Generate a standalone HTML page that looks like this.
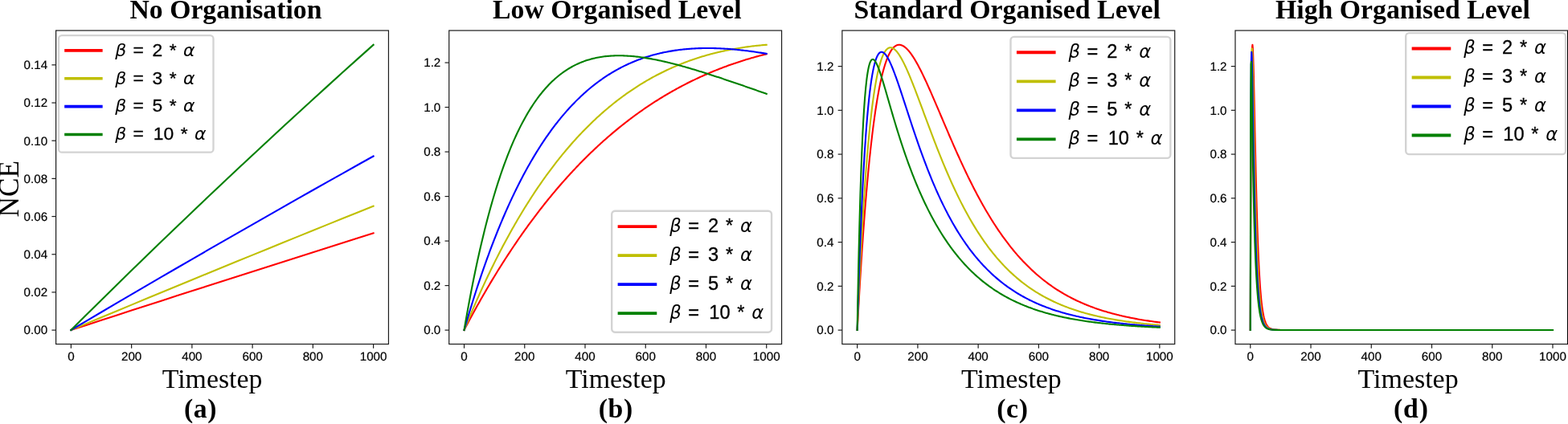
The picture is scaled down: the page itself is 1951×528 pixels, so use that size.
<!DOCTYPE html>
<html lang="en"><head><meta charset="utf-8"><title>NCE over Timestep</title>
<style>html,body{margin:0;padding:0;background:#fff;overflow:hidden;}svg{display:block;}</style>
</head><body>
<svg width="1951" height="528" viewBox="0 0 1951 528" role="img" aria-label="NCE over Timestep for four organisation levels">
<rect x="0" y="0" width="1951" height="528" fill="#fff"/>
<g id="panel-a">
<g fill="none" stroke-width="2.1" stroke-linecap="square" stroke-linejoin="round">
<polyline stroke="#ff0000" points="88.40,411.00 107.21,404.88 126.02,398.77 144.83,392.68 163.64,386.59 182.45,380.51 201.26,374.43 220.07,368.37 238.88,362.32 257.69,356.28 276.50,350.24 295.31,344.21 314.12,338.20 332.93,332.19 351.74,326.19 370.55,320.20 389.36,314.22 408.17,308.25 426.98,302.29 445.79,296.33 464.60,290.39"/>
<polyline stroke="#bfbf00" points="88.40,411.00 107.21,403.13 126.02,395.28 144.83,387.45 163.64,379.63 182.45,371.82 201.26,364.04 220.07,356.26 238.88,348.51 257.69,340.76 276.50,333.04 295.31,325.33 314.12,317.63 332.93,309.95 351.74,302.29 370.55,294.64 389.36,287.01 408.17,279.39 426.98,271.79 445.79,264.20 464.60,256.63"/>
<polyline stroke="#0000ff" points="88.40,411.00 107.21,399.86 126.02,388.76 144.83,377.69 163.64,366.65 182.45,355.65 201.26,344.68 220.07,333.74 238.88,322.84 257.69,311.96 276.50,301.12 295.31,290.32 314.12,279.54 332.93,268.80 351.74,258.09 370.55,247.41 389.36,236.77 408.17,226.16 426.98,215.57 445.79,205.03 464.60,194.51"/>
<polyline stroke="#008000" points="88.40,411.00 107.21,392.29 126.02,373.69 144.83,355.19 163.64,336.79 182.45,318.49 201.26,300.29 220.07,282.19 238.88,264.19 257.69,246.30 276.50,228.49 295.31,210.79 314.12,193.19 332.93,175.68 351.74,158.27 370.55,140.95 389.36,123.73 408.17,106.61 426.98,89.58 445.79,72.64 464.60,55.80"/>
</g>
<g stroke="#1c1c1c" stroke-width="1.2">
<line x1="88.40" y1="428.5" x2="88.40" y2="433.70"/>
<line x1="163.64" y1="428.5" x2="163.64" y2="433.70"/>
<line x1="238.88" y1="428.5" x2="238.88" y2="433.70"/>
<line x1="314.12" y1="428.5" x2="314.12" y2="433.70"/>
<line x1="389.36" y1="428.5" x2="389.36" y2="433.70"/>
<line x1="464.60" y1="428.5" x2="464.60" y2="433.70"/>
<line x1="64.40" y1="411.10" x2="69.60" y2="411.10"/>
<line x1="64.40" y1="363.92" x2="69.60" y2="363.92"/>
<line x1="64.40" y1="316.74" x2="69.60" y2="316.74"/>
<line x1="64.40" y1="269.56" x2="69.60" y2="269.56"/>
<line x1="64.40" y1="222.38" x2="69.60" y2="222.38"/>
<line x1="64.40" y1="175.20" x2="69.60" y2="175.20"/>
<line x1="64.40" y1="128.02" x2="69.60" y2="128.02"/>
<line x1="64.40" y1="80.84" x2="69.60" y2="80.84"/>
</g>
<g font-family='"Liberation Sans", sans-serif' font-size="15.0" fill="#000" stroke="#000" stroke-width="0.2" text-rendering="geometricPrecision">
<text transform="translate(88.40,449.40) scale(1.015,1)" text-anchor="middle">0</text>
<text transform="translate(163.64,449.40) scale(1.015,1)" text-anchor="middle">200</text>
<text transform="translate(238.88,449.40) scale(1.015,1)" text-anchor="middle">400</text>
<text transform="translate(314.12,449.40) scale(1.015,1)" text-anchor="middle">600</text>
<text transform="translate(389.36,449.40) scale(1.015,1)" text-anchor="middle">800</text>
<text transform="translate(464.60,449.40) scale(1.015,1)" text-anchor="middle">1000</text>
<text transform="translate(59.20,416.40) scale(1.015,1)" text-anchor="end">0.00</text>
<text transform="translate(59.20,369.22) scale(1.015,1)" text-anchor="end">0.02</text>
<text transform="translate(59.20,322.04) scale(1.015,1)" text-anchor="end">0.04</text>
<text transform="translate(59.20,274.86) scale(1.015,1)" text-anchor="end">0.06</text>
<text transform="translate(59.20,227.68) scale(1.015,1)" text-anchor="end">0.08</text>
<text transform="translate(59.20,180.50) scale(1.015,1)" text-anchor="end">0.10</text>
<text transform="translate(59.20,133.32) scale(1.015,1)" text-anchor="end">0.12</text>
<text transform="translate(59.20,86.14) scale(1.015,1)" text-anchor="end">0.14</text>
</g>
<rect x="69.60" y="38.0" width="413.85" height="390.50" fill="none" stroke="#1c1c1c" stroke-width="1.2"/>
<text x="161.53" y="22.50" font-family='"Liberation Serif", serif' font-size="33.73" font-weight="bold" fill="#000">No Organisation</text>
<text x="201.72" y="482.80" font-family='"Liberation Serif", serif' font-size="33.82" fill="#000">Timestep</text>
<text x="228.98" y="520.00" font-family='"Liberation Serif", serif' font-size="33.75" font-weight="bold" fill="#000" letter-spacing="0.559">(a)</text>
<g transform="translate(73.00,44.15) scale(1.0)">
<rect x="0" y="0" width="192.5" height="145.5" rx="4" ry="4" fill="#fff" fill-opacity="0.8" stroke="#d3d3d3" stroke-width="2.3"/>
<line x1="7.2" y1="18.75" x2="54.65" y2="18.75" stroke="#ff0000" stroke-width="3.7"/>
<line x1="7.2" y1="53.62" x2="54.65" y2="53.62" stroke="#bfbf00" stroke-width="3.7"/>
<line x1="7.2" y1="88.49" x2="54.65" y2="88.49" stroke="#0000ff" stroke-width="3.7"/>
<line x1="7.2" y1="123.36" x2="54.65" y2="123.36" stroke="#008000" stroke-width="3.7"/>
<text y="25.60" font-family='"Liberation Sans", sans-serif' font-size="22.86" fill="#000" stroke="#000" stroke-width="0.3"><tspan x="70.20" font-family='"DejaVu Sans", "Liberation Sans", sans-serif' font-style="italic" font-size="22.0" stroke="none">β</tspan><tspan x="99.25" text-anchor="middle"> = </tspan><tspan x="122.80" text-anchor="middle">2</tspan><tspan x="142.20" text-anchor="middle"> * </tspan><tspan x="155.11" font-family='"DejaVu Sans", "Liberation Sans", sans-serif' font-style="italic" font-size="22.0" stroke="none">α</tspan></text>
<text y="60.47" font-family='"Liberation Sans", sans-serif' font-size="22.86" fill="#000" stroke="#000" stroke-width="0.3"><tspan x="70.20" font-family='"DejaVu Sans", "Liberation Sans", sans-serif' font-style="italic" font-size="22.0" stroke="none">β</tspan><tspan x="99.25" text-anchor="middle"> = </tspan><tspan x="122.80" text-anchor="middle">3</tspan><tspan x="142.20" text-anchor="middle"> * </tspan><tspan x="155.11" font-family='"DejaVu Sans", "Liberation Sans", sans-serif' font-style="italic" font-size="22.0" stroke="none">α</tspan></text>
<text y="95.34" font-family='"Liberation Sans", sans-serif' font-size="22.86" fill="#000" stroke="#000" stroke-width="0.3"><tspan x="70.20" font-family='"DejaVu Sans", "Liberation Sans", sans-serif' font-style="italic" font-size="22.0" stroke="none">β</tspan><tspan x="99.25" text-anchor="middle"> = </tspan><tspan x="122.80" text-anchor="middle">5</tspan><tspan x="142.20" text-anchor="middle"> * </tspan><tspan x="155.11" font-family='"DejaVu Sans", "Liberation Sans", sans-serif' font-style="italic" font-size="22.0" stroke="none">α</tspan></text>
<text y="130.21" font-family='"Liberation Sans", sans-serif' font-size="22.86" fill="#000" stroke="#000" stroke-width="0.3"><tspan x="70.20" font-family='"DejaVu Sans", "Liberation Sans", sans-serif' font-style="italic" font-size="22.0" stroke="none">β</tspan><tspan x="99.25" text-anchor="middle"> = </tspan><tspan x="130.50" text-anchor="middle">10</tspan><tspan x="156.10" text-anchor="middle"> * </tspan><tspan x="169.01" font-family='"DejaVu Sans", "Liberation Sans", sans-serif' font-style="italic" font-size="22.0" stroke="none">α</tspan></text>
</g>
</g>
<g id="panel-b">
<g fill="none" stroke-width="2.1" stroke-linecap="square" stroke-linejoin="round">
<polyline stroke="#ff0000" points="577.53,411.00 579.03,408.13 580.54,405.27 582.04,402.43 583.55,399.61 585.05,396.81 586.56,394.02 588.06,391.25 589.57,388.50 591.07,385.76 592.58,383.04 594.08,380.34 595.59,377.65 597.09,374.98 598.60,372.32 600.10,369.69 601.61,367.06 603.11,364.46 604.62,361.87 606.12,359.29 607.63,356.73 609.13,354.19 610.64,351.66 612.14,349.15 613.65,346.65 615.15,344.17 616.65,341.71 618.16,339.26 619.66,336.82 621.17,334.40 622.67,332.00 624.18,329.61 625.68,327.23 627.19,324.88 628.69,322.53 630.20,320.20 631.70,317.88 633.21,315.58 634.71,313.30 636.22,311.02 637.72,308.77 639.23,306.52 640.73,304.29 642.24,302.08 643.74,299.88 645.25,297.69 646.75,295.52 648.26,293.36 649.76,291.22 651.27,289.08 652.77,286.97 654.27,284.86 655.78,282.77 657.28,280.70 658.79,278.63 660.29,276.58 661.80,274.55 663.30,272.52 664.81,270.51 666.31,268.52 667.82,266.53 669.32,264.56 670.83,262.60 672.33,260.66 673.84,258.73 675.34,256.81 676.85,254.90 678.35,253.01 679.86,251.13 681.36,249.26 682.87,247.40 684.37,245.56 685.88,243.72 687.38,241.91 688.89,240.10 690.39,238.30 691.89,236.52 693.40,234.75 694.90,232.99 696.41,231.24 697.91,229.51 699.42,227.79 700.92,226.08 702.43,224.38 703.93,222.69 705.44,221.01 706.94,219.35 708.45,217.69 709.95,216.05 711.46,214.42 712.96,212.80 714.47,211.19 715.97,209.60 717.48,208.01 718.98,206.44 720.49,204.87 721.99,203.32 723.50,201.78 725.00,200.25 726.51,198.73 728.01,197.22 729.51,195.72 731.02,194.23 732.52,192.76 734.03,191.29 735.53,189.84 737.04,188.39 738.54,186.96 740.05,185.53 741.55,184.12 743.06,182.71 744.56,181.32 746.07,179.94 747.57,178.56 749.08,177.20 750.58,175.84 752.09,174.50 753.59,173.17 755.10,171.84 756.60,170.53 758.11,169.23 759.61,167.93 761.12,166.65 762.62,165.37 764.13,164.11 765.63,162.85 767.13,161.61 768.64,160.37 770.14,159.14 771.65,157.92 773.15,156.71 774.66,155.51 776.16,154.32 777.67,153.14 779.17,151.97 780.68,150.81 782.18,149.65 783.69,148.51 785.19,147.37 786.70,146.25 788.20,145.13 789.71,144.02 791.21,142.92 792.72,141.83 794.22,140.74 795.73,139.67 797.23,138.60 798.74,137.54 800.24,136.49 801.75,135.45 803.25,134.42 804.75,133.40 806.26,132.38 807.76,131.38 809.27,130.38 810.77,129.39 812.28,128.40 813.78,127.43 815.29,126.46 816.79,125.51 818.30,124.55 819.80,123.61 821.31,122.68 822.81,121.75 824.32,120.83 825.82,119.92 827.33,119.02 828.83,118.12 830.34,117.24 831.84,116.36 833.35,115.48 834.85,114.62 836.36,113.76 837.86,112.91 839.37,112.07 840.87,111.24 842.37,110.41 843.88,109.59 845.38,108.78 846.89,107.97 848.39,107.17 849.90,106.38 851.40,105.60 852.91,104.82 854.41,104.05 855.92,103.29 857.42,102.53 858.93,101.78 860.43,101.04 861.94,100.31 863.44,99.58 864.95,98.86 866.45,98.14 867.96,97.44 869.46,96.74 870.97,96.04 872.47,95.35 873.98,94.67 875.48,94.00 876.99,93.33 878.49,92.67 879.99,92.02 881.50,91.37 883.00,90.73 884.51,90.09 886.01,89.46 887.52,88.84 889.02,88.22 890.53,87.61 892.03,87.01 893.54,86.41 895.04,85.82 896.55,85.24 898.05,84.66 899.56,84.08 901.06,83.52 902.57,82.95 904.07,82.40 905.58,81.85 907.08,81.31 908.59,80.77 910.09,80.24 911.60,79.71 913.10,79.19 914.61,78.68 916.11,78.17 917.61,77.67 919.12,77.17 920.62,76.68 922.13,76.19 923.63,75.71 925.14,75.24 926.64,74.77 928.15,74.30 929.65,73.85 931.16,73.39 932.66,72.95 934.17,72.50 935.67,72.07 937.18,71.64 938.68,71.21 940.19,70.79 941.69,70.37 943.20,69.96 944.70,69.56 946.21,69.16 947.71,68.76 949.22,68.37 950.72,67.99 952.23,67.61 953.73,67.23"/>
<polyline stroke="#bfbf00" points="577.53,411.00 579.03,407.31 580.54,403.65 582.04,400.02 583.55,396.41 585.05,392.84 586.56,389.29 588.06,385.77 589.57,382.29 591.07,378.83 592.58,375.39 594.08,371.99 595.59,368.61 597.09,365.26 598.60,361.94 600.10,358.64 601.61,355.37 603.11,352.13 604.62,348.92 606.12,345.73 607.63,342.56 609.13,339.43 610.64,336.32 612.14,333.23 613.65,330.17 615.15,327.14 616.65,324.13 618.16,321.14 619.66,318.18 621.17,315.25 622.67,312.34 624.18,309.45 625.68,306.59 627.19,303.75 628.69,300.94 630.20,298.15 631.70,295.38 633.21,292.64 634.71,289.92 636.22,287.22 637.72,284.55 639.23,281.90 640.73,279.27 642.24,276.67 643.74,274.08 645.25,271.52 646.75,268.98 648.26,266.47 649.76,263.97 651.27,261.50 652.77,259.05 654.27,256.61 655.78,254.20 657.28,251.82 658.79,249.45 660.29,247.10 661.80,244.78 663.30,242.47 664.81,240.19 666.31,237.92 667.82,235.68 669.32,233.45 670.83,231.25 672.33,229.06 673.84,226.89 675.34,224.75 676.85,222.62 678.35,220.51 679.86,218.43 681.36,216.36 682.87,214.30 684.37,212.27 685.88,210.26 687.38,208.26 688.89,206.29 690.39,204.33 691.89,202.39 693.40,200.47 694.90,198.56 696.41,196.67 697.91,194.80 699.42,192.95 700.92,191.12 702.43,189.30 703.93,187.50 705.44,185.72 706.94,183.95 708.45,182.20 709.95,180.47 711.46,178.75 712.96,177.05 714.47,175.37 715.97,173.70 717.48,172.05 718.98,170.41 720.49,168.80 721.99,167.19 723.50,165.60 725.00,164.03 726.51,162.48 728.01,160.93 729.51,159.41 731.02,157.90 732.52,156.40 734.03,154.92 735.53,153.45 737.04,152.00 738.54,150.57 740.05,149.15 741.55,147.74 743.06,146.34 744.56,144.97 746.07,143.60 747.57,142.25 749.08,140.91 750.58,139.59 752.09,138.28 753.59,136.99 755.10,135.70 756.60,134.44 758.11,133.18 759.61,131.94 761.12,130.71 762.62,129.50 764.13,128.29 765.63,127.11 767.13,125.93 768.64,124.77 770.14,123.61 771.65,122.48 773.15,121.35 774.66,120.24 776.16,119.14 777.67,118.05 779.17,116.97 780.68,115.91 782.18,114.85 783.69,113.81 785.19,112.79 786.70,111.77 788.20,110.76 789.71,109.77 791.21,108.79 792.72,107.82 794.22,106.86 795.73,105.91 797.23,104.97 798.74,104.05 800.24,103.13 801.75,102.23 803.25,101.34 804.75,100.45 806.26,99.58 807.76,98.72 809.27,97.87 810.77,97.03 812.28,96.20 813.78,95.39 815.29,94.58 816.79,93.78 818.30,92.99 819.80,92.21 821.31,91.45 822.81,90.69 824.32,89.94 825.82,89.20 827.33,88.47 828.83,87.75 830.34,87.04 831.84,86.35 833.35,85.65 834.85,84.97 836.36,84.30 837.86,83.64 839.37,82.99 840.87,82.34 842.37,81.71 843.88,81.08 845.38,80.46 846.89,79.86 848.39,79.26 849.90,78.67 851.40,78.08 852.91,77.51 854.41,76.95 855.92,76.39 857.42,75.84 858.93,75.30 860.43,74.77 861.94,74.25 863.44,73.73 864.95,73.23 866.45,72.73 867.96,72.24 869.46,71.76 870.97,71.28 872.47,70.81 873.98,70.36 875.48,69.90 876.99,69.46 878.49,69.02 879.99,68.60 881.50,68.18 883.00,67.76 884.51,67.36 886.01,66.96 887.52,66.57 889.02,66.18 890.53,65.80 892.03,65.43 893.54,65.07 895.04,64.72 896.55,64.37 898.05,64.03 899.56,63.69 901.06,63.36 902.57,63.04 904.07,62.73 905.58,62.42 907.08,62.12 908.59,61.82 910.09,61.53 911.60,61.25 913.10,60.98 914.61,60.71 916.11,60.44 917.61,60.19 919.12,59.94 920.62,59.69 922.13,59.46 923.63,59.22 925.14,59.00 926.64,58.78 928.15,58.56 929.65,58.36 931.16,58.15 932.66,57.96 934.17,57.77 935.67,57.58 937.18,57.40 938.68,57.23 940.19,57.06 941.69,56.90 943.20,56.74 944.70,56.59 946.21,56.45 947.71,56.31 949.22,56.17 950.72,56.04 952.23,55.92 953.73,55.80"/>
<polyline stroke="#0000ff" points="577.53,411.00 579.03,405.78 580.54,400.63 582.04,395.53 583.55,390.50 585.05,385.53 586.56,380.62 588.06,375.76 589.57,370.97 591.07,366.23 592.58,361.55 594.08,356.93 595.59,352.37 597.09,347.86 598.60,343.40 600.10,339.00 601.61,334.65 603.11,330.36 604.62,326.12 606.12,321.93 607.63,317.79 609.13,313.71 610.64,309.67 612.14,305.69 613.65,301.75 615.15,297.87 616.65,294.03 618.16,290.24 619.66,286.50 621.17,282.80 622.67,279.16 624.18,275.55 625.68,272.00 627.19,268.49 628.69,265.02 630.20,261.60 631.70,258.22 633.21,254.89 634.71,251.59 636.22,248.34 637.72,245.14 639.23,241.97 640.73,238.85 642.24,235.76 643.74,232.72 645.25,229.71 646.75,226.75 648.26,223.82 649.76,220.94 651.27,218.09 652.77,215.28 654.27,212.50 655.78,209.77 657.28,207.07 658.79,204.40 660.29,201.77 661.80,199.18 663.30,196.63 664.81,194.10 666.31,191.61 667.82,189.16 669.32,186.74 670.83,184.35 672.33,182.00 673.84,179.68 675.34,177.39 676.85,175.13 678.35,172.91 679.86,170.71 681.36,168.55 682.87,166.42 684.37,164.31 685.88,162.24 687.38,160.20 688.89,158.19 690.39,156.20 691.89,154.25 693.40,152.32 694.90,150.42 696.41,148.55 697.91,146.71 699.42,144.89 700.92,143.10 702.43,141.34 703.93,139.60 705.44,137.89 706.94,136.21 708.45,134.55 709.95,132.91 711.46,131.31 712.96,129.72 714.47,128.16 715.97,126.63 717.48,125.12 718.98,123.63 720.49,122.17 721.99,120.72 723.50,119.31 725.00,117.91 726.51,116.54 728.01,115.19 729.51,113.86 731.02,112.55 732.52,111.27 734.03,110.00 735.53,108.76 737.04,107.54 738.54,106.34 740.05,105.16 741.55,104.00 743.06,102.86 744.56,101.73 746.07,100.63 747.57,99.55 749.08,98.49 750.58,97.44 752.09,96.42 753.59,95.41 755.10,94.42 756.60,93.45 758.11,92.50 759.61,91.56 761.12,90.65 762.62,89.75 764.13,88.86 765.63,88.00 767.13,87.15 768.64,86.31 770.14,85.50 771.65,84.70 773.15,83.91 774.66,83.14 776.16,82.39 777.67,81.65 779.17,80.93 780.68,80.23 782.18,79.53 783.69,78.86 785.19,78.19 786.70,77.55 788.20,76.91 789.71,76.29 791.21,75.69 792.72,75.10 794.22,74.52 795.73,73.96 797.23,73.41 798.74,72.87 800.24,72.35 801.75,71.83 803.25,71.34 804.75,70.85 806.26,70.38 807.76,69.92 809.27,69.47 810.77,69.03 812.28,68.61 813.78,68.20 815.29,67.80 816.79,67.41 818.30,67.03 819.80,66.66 821.31,66.31 822.81,65.96 824.32,65.63 825.82,65.31 827.33,65.00 828.83,64.70 830.34,64.41 831.84,64.13 833.35,63.86 834.85,63.60 836.36,63.35 837.86,63.11 839.37,62.88 840.87,62.66 842.37,62.45 843.88,62.25 845.38,62.05 846.89,61.87 848.39,61.70 849.90,61.53 851.40,61.38 852.91,61.23 854.41,61.09 855.92,60.96 857.42,60.84 858.93,60.73 860.43,60.63 861.94,60.53 863.44,60.44 864.95,60.36 866.45,60.29 867.96,60.23 869.46,60.17 870.97,60.12 872.47,60.08 873.98,60.04 875.48,60.02 876.99,60.00 878.49,59.99 879.99,59.98 881.50,59.98 883.00,59.99 884.51,60.01 886.01,60.03 887.52,60.06 889.02,60.10 890.53,60.14 892.03,60.19 893.54,60.25 895.04,60.31 896.55,60.38 898.05,60.45 899.56,60.53 901.06,60.62 902.57,60.71 904.07,60.81 905.58,60.91 907.08,61.02 908.59,61.14 910.09,61.26 911.60,61.38 913.10,61.52 914.61,61.65 916.11,61.80 917.61,61.94 919.12,62.10 920.62,62.25 922.13,62.42 923.63,62.59 925.14,62.76 926.64,62.94 928.15,63.12 929.65,63.31 931.16,63.50 932.66,63.70 934.17,63.90 935.67,64.10 937.18,64.31 938.68,64.53 940.19,64.75 941.69,64.97 943.20,65.20 944.70,65.43 946.21,65.66 947.71,65.90 949.22,66.15 950.72,66.40 952.23,66.65 953.73,66.90"/>
<polyline stroke="#008000" points="577.53,411.00 579.03,402.27 580.54,393.73 582.04,385.37 583.55,377.20 585.05,369.21 586.56,361.39 588.06,353.75 589.57,346.27 591.07,338.96 592.58,331.81 594.08,324.82 595.59,317.99 597.09,311.31 598.60,304.77 600.10,298.39 601.61,292.14 603.11,286.04 604.62,280.07 606.12,274.24 607.63,268.55 609.13,262.98 610.64,257.54 612.14,252.22 613.65,247.03 615.15,241.95 616.65,236.99 618.16,232.15 619.66,227.42 621.17,222.80 622.67,218.29 624.18,213.88 625.68,209.58 627.19,205.38 628.69,201.27 630.20,197.27 631.70,193.36 633.21,189.55 634.71,185.82 636.22,182.19 637.72,178.64 639.23,175.19 640.73,171.81 642.24,168.52 643.74,165.31 645.25,162.18 646.75,159.13 648.26,156.15 649.76,153.25 651.27,150.42 652.77,147.66 654.27,144.98 655.78,142.36 657.28,139.81 658.79,137.33 660.29,134.91 661.80,132.56 663.30,130.26 664.81,128.03 666.31,125.86 667.82,123.75 669.32,121.69 670.83,119.69 672.33,117.75 673.84,115.86 675.34,114.02 676.85,112.23 678.35,110.50 679.86,108.81 681.36,107.17 682.87,105.58 684.37,104.04 685.88,102.54 687.38,101.09 688.89,99.68 690.39,98.32 691.89,96.99 693.40,95.71 694.90,94.47 696.41,93.27 697.91,92.10 699.42,90.98 700.92,89.89 702.43,88.84 703.93,87.82 705.44,86.84 706.94,85.89 708.45,84.98 709.95,84.10 711.46,83.25 712.96,82.43 714.47,81.64 715.97,80.89 717.48,80.16 718.98,79.46 720.49,78.79 721.99,78.15 723.50,77.54 725.00,76.95 726.51,76.38 728.01,75.85 729.51,75.34 731.02,74.85 732.52,74.38 734.03,73.94 735.53,73.53 737.04,73.13 738.54,72.76 740.05,72.41 741.55,72.08 743.06,71.77 744.56,71.48 746.07,71.21 747.57,70.96 749.08,70.73 750.58,70.51 752.09,70.32 753.59,70.14 755.10,69.98 756.60,69.84 758.11,69.71 759.61,69.60 761.12,69.51 762.62,69.43 764.13,69.36 765.63,69.31 767.13,69.28 768.64,69.26 770.14,69.26 771.65,69.26 773.15,69.28 774.66,69.32 776.16,69.37 777.67,69.43 779.17,69.50 780.68,69.58 782.18,69.68 783.69,69.78 785.19,69.90 786.70,70.03 788.20,70.17 789.71,70.32 791.21,70.48 792.72,70.65 794.22,70.83 795.73,71.02 797.23,71.22 798.74,71.43 800.24,71.64 801.75,71.87 803.25,72.10 804.75,72.35 806.26,72.60 807.76,72.85 809.27,73.12 810.77,73.39 812.28,73.68 813.78,73.96 815.29,74.26 816.79,74.56 818.30,74.87 819.80,75.19 821.31,75.51 822.81,75.84 824.32,76.17 825.82,76.51 827.33,76.86 828.83,77.21 830.34,77.57 831.84,77.93 833.35,78.30 834.85,78.67 836.36,79.05 837.86,79.43 839.37,79.82 840.87,80.21 842.37,80.61 843.88,81.01 845.38,81.42 846.89,81.83 848.39,82.24 849.90,82.66 851.40,83.08 852.91,83.51 854.41,83.94 855.92,84.37 857.42,84.81 858.93,85.25 860.43,85.69 861.94,86.14 863.44,86.59 864.95,87.04 866.45,87.50 867.96,87.96 869.46,88.42 870.97,88.88 872.47,89.35 873.98,89.82 875.48,90.29 876.99,90.77 878.49,91.24 879.99,91.72 881.50,92.20 883.00,92.69 884.51,93.17 886.01,93.66 887.52,94.15 889.02,94.64 890.53,95.13 892.03,95.63 893.54,96.12 895.04,96.62 896.55,97.12 898.05,97.62 899.56,98.13 901.06,98.63 902.57,99.14 904.07,99.64 905.58,100.15 907.08,100.66 908.59,101.17 910.09,101.68 911.60,102.20 913.10,102.71 914.61,103.22 916.11,103.74 917.61,104.26 919.12,104.78 920.62,105.29 922.13,105.81 923.63,106.33 925.14,106.85 926.64,107.38 928.15,107.90 929.65,108.42 931.16,108.95 932.66,109.47 934.17,109.99 935.67,110.52 937.18,111.04 938.68,111.57 940.19,112.10 941.69,112.62 943.20,113.15 944.70,113.68 946.21,114.21 947.71,114.73 949.22,115.26 950.72,115.79 952.23,116.32 953.73,116.85"/>
</g>
<g stroke="#1c1c1c" stroke-width="1.2">
<line x1="577.53" y1="428.5" x2="577.53" y2="433.70"/>
<line x1="652.77" y1="428.5" x2="652.77" y2="433.70"/>
<line x1="728.01" y1="428.5" x2="728.01" y2="433.70"/>
<line x1="803.25" y1="428.5" x2="803.25" y2="433.70"/>
<line x1="878.49" y1="428.5" x2="878.49" y2="433.70"/>
<line x1="953.73" y1="428.5" x2="953.73" y2="433.70"/>
<line x1="553.53" y1="411.10" x2="558.73" y2="411.10"/>
<line x1="553.53" y1="355.59" x2="558.73" y2="355.59"/>
<line x1="553.53" y1="300.08" x2="558.73" y2="300.08"/>
<line x1="553.53" y1="244.57" x2="558.73" y2="244.57"/>
<line x1="553.53" y1="189.06" x2="558.73" y2="189.06"/>
<line x1="553.53" y1="133.55" x2="558.73" y2="133.55"/>
<line x1="553.53" y1="78.05" x2="558.73" y2="78.05"/>
</g>
<g font-family='"Liberation Sans", sans-serif' font-size="15.0" fill="#000" stroke="#000" stroke-width="0.2" text-rendering="geometricPrecision">
<text transform="translate(577.53,449.40) scale(1.015,1)" text-anchor="middle">0</text>
<text transform="translate(652.77,449.40) scale(1.015,1)" text-anchor="middle">200</text>
<text transform="translate(728.01,449.40) scale(1.015,1)" text-anchor="middle">400</text>
<text transform="translate(803.25,449.40) scale(1.015,1)" text-anchor="middle">600</text>
<text transform="translate(878.49,449.40) scale(1.015,1)" text-anchor="middle">800</text>
<text transform="translate(953.73,449.40) scale(1.015,1)" text-anchor="middle">1000</text>
<text transform="translate(548.33,416.40) scale(1.015,1)" text-anchor="end">0.0</text>
<text transform="translate(548.33,360.89) scale(1.015,1)" text-anchor="end">0.2</text>
<text transform="translate(548.33,305.38) scale(1.015,1)" text-anchor="end">0.4</text>
<text transform="translate(548.33,249.87) scale(1.015,1)" text-anchor="end">0.6</text>
<text transform="translate(548.33,194.36) scale(1.015,1)" text-anchor="end">0.8</text>
<text transform="translate(548.33,138.85) scale(1.015,1)" text-anchor="end">1.0</text>
<text transform="translate(548.33,83.35) scale(1.015,1)" text-anchor="end">1.2</text>
</g>
<rect x="558.73" y="38.0" width="413.85" height="390.50" fill="none" stroke="#1c1c1c" stroke-width="1.2"/>
<text x="613.09" y="22.50" font-family='"Liberation Serif", serif' font-size="33.77" font-weight="bold" fill="#000">Low Organised Level</text>
<text x="703.82" y="482.80" font-family='"Liberation Serif", serif' font-size="33.88" fill="#000">Timestep</text>
<text x="744.68" y="520.00" font-family='"Liberation Serif", serif' font-size="33.75" font-weight="bold" fill="#000" letter-spacing="0.697">(b)</text>
<g transform="translate(761.20,262.70) scale(1.033)">
<rect x="0" y="0" width="192.5" height="146.2" rx="4" ry="4" fill="#fff" fill-opacity="0.8" stroke="#d3d3d3" stroke-width="2.3"/>
<line x1="7.2" y1="18.75" x2="54.3" y2="18.75" stroke="#ff0000" stroke-width="3.7"/>
<line x1="7.2" y1="53.62" x2="54.3" y2="53.62" stroke="#bfbf00" stroke-width="3.7"/>
<line x1="7.2" y1="88.49" x2="54.3" y2="88.49" stroke="#0000ff" stroke-width="3.7"/>
<line x1="7.2" y1="123.36" x2="54.3" y2="123.36" stroke="#008000" stroke-width="3.7"/>
<text y="25.60" font-family='"Liberation Sans", sans-serif' font-size="22.86" fill="#000" stroke="#000" stroke-width="0.3"><tspan x="69.70" font-family='"DejaVu Sans", "Liberation Sans", sans-serif' font-style="italic" font-size="22.0" stroke="none">β</tspan><tspan x="98.75" text-anchor="middle"> = </tspan><tspan x="122.30" text-anchor="middle">2</tspan><tspan x="141.70" text-anchor="middle"> * </tspan><tspan x="154.61" font-family='"DejaVu Sans", "Liberation Sans", sans-serif' font-style="italic" font-size="22.0" stroke="none">α</tspan></text>
<text y="60.47" font-family='"Liberation Sans", sans-serif' font-size="22.86" fill="#000" stroke="#000" stroke-width="0.3"><tspan x="69.70" font-family='"DejaVu Sans", "Liberation Sans", sans-serif' font-style="italic" font-size="22.0" stroke="none">β</tspan><tspan x="98.75" text-anchor="middle"> = </tspan><tspan x="122.30" text-anchor="middle">3</tspan><tspan x="141.70" text-anchor="middle"> * </tspan><tspan x="154.61" font-family='"DejaVu Sans", "Liberation Sans", sans-serif' font-style="italic" font-size="22.0" stroke="none">α</tspan></text>
<text y="95.34" font-family='"Liberation Sans", sans-serif' font-size="22.86" fill="#000" stroke="#000" stroke-width="0.3"><tspan x="69.70" font-family='"DejaVu Sans", "Liberation Sans", sans-serif' font-style="italic" font-size="22.0" stroke="none">β</tspan><tspan x="98.75" text-anchor="middle"> = </tspan><tspan x="122.30" text-anchor="middle">5</tspan><tspan x="141.70" text-anchor="middle"> * </tspan><tspan x="154.61" font-family='"DejaVu Sans", "Liberation Sans", sans-serif' font-style="italic" font-size="22.0" stroke="none">α</tspan></text>
<text y="130.21" font-family='"Liberation Sans", sans-serif' font-size="22.86" fill="#000" stroke="#000" stroke-width="0.3"><tspan x="69.70" font-family='"DejaVu Sans", "Liberation Sans", sans-serif' font-style="italic" font-size="22.0" stroke="none">β</tspan><tspan x="98.75" text-anchor="middle"> = </tspan><tspan x="130.00" text-anchor="middle">10</tspan><tspan x="155.60" text-anchor="middle"> * </tspan><tspan x="168.51" font-family='"DejaVu Sans", "Liberation Sans", sans-serif' font-style="italic" font-size="22.0" stroke="none">α</tspan></text>
</g>
</g>
<g id="panel-c">
<g fill="none" stroke-width="2.1" stroke-linecap="square" stroke-linejoin="round">
<polyline stroke="#ff0000" points="1066.66,411.00 1067.04,403.95 1067.41,397.00 1067.79,390.16 1068.16,383.42 1068.54,376.79 1068.92,370.25 1069.29,363.81 1069.67,357.47 1070.05,351.23 1070.42,345.09 1070.80,339.03 1071.17,333.08 1071.55,327.21 1071.93,321.44 1072.30,315.76 1072.68,310.16 1073.06,304.66 1073.43,299.24 1073.81,293.91 1074.18,288.66 1074.56,283.50 1074.94,278.42 1075.31,273.42 1075.69,268.50 1076.06,263.67 1076.44,258.91 1076.82,254.23 1077.19,249.63 1077.57,245.11 1077.95,240.66 1078.32,236.29 1078.70,231.99 1079.07,227.76 1079.45,223.60 1079.83,219.52 1080.20,215.51 1080.58,211.56 1080.96,207.69 1081.33,203.88 1081.71,200.14 1082.08,196.46 1082.46,192.85 1082.84,189.31 1083.21,185.83 1083.59,182.41 1083.97,179.05 1084.34,175.76 1084.72,172.53 1085.09,169.35 1085.47,166.24 1085.85,163.18 1086.22,160.18 1086.60,157.24 1086.97,154.36 1087.35,151.53 1087.73,148.76 1088.10,146.04 1088.48,143.37 1088.86,140.76 1089.23,138.20 1089.61,135.69 1089.98,133.23 1090.36,130.82 1090.74,128.46 1091.11,126.15 1091.49,123.89 1091.87,121.68 1092.24,119.52 1092.62,117.40 1092.99,115.33 1093.37,113.30 1093.75,111.32 1094.12,109.38 1094.50,107.49 1094.87,105.64 1095.25,103.83 1095.63,102.06 1096.00,100.34 1096.38,98.66 1096.76,97.01 1097.13,95.41 1097.51,93.85 1097.88,92.33 1098.26,90.84 1098.64,89.39 1099.01,87.98 1099.39,86.61 1099.77,85.28 1100.14,83.98 1100.52,82.71 1100.89,81.48 1101.27,80.29 1101.65,79.13 1102.02,78.00 1102.40,76.91 1102.78,75.85 1103.15,74.82 1103.53,73.82 1103.90,72.86 1104.28,71.92 1104.66,71.02 1105.03,70.15 1105.41,69.31 1105.78,68.49 1106.16,67.71 1106.54,66.95 1106.91,66.23 1107.29,65.53 1107.67,64.86 1108.04,64.21 1108.42,63.59 1108.79,63.00 1109.17,62.44 1109.55,61.90 1109.92,61.39 1110.30,60.90 1110.68,60.43 1111.05,59.99 1111.43,59.58 1111.80,59.18 1112.18,58.81 1112.56,58.47 1112.93,58.15 1113.31,57.84 1113.68,57.57 1114.06,57.31 1114.44,57.07 1114.81,56.86 1115.19,56.66 1115.57,56.49 1115.94,56.34 1116.32,56.20 1116.69,56.09 1117.07,55.99 1117.45,55.92 1117.82,55.86 1118.20,55.82 1118.58,55.80 1118.95,55.80 1119.33,55.82 1119.70,55.85 1120.08,55.90 1120.46,55.96 1120.83,56.05 1121.21,56.15 1121.59,56.26 1121.96,56.40 1122.34,56.54 1122.71,56.71 1123.09,56.88 1123.47,57.08 1123.84,57.28 1124.22,57.51 1124.59,57.74 1124.97,57.99 1125.35,58.26 1125.72,58.53 1126.10,58.83 1126.48,59.13 1126.85,59.45 1127.23,59.78 1127.60,60.12 1127.98,60.47 1128.36,60.84 1128.73,61.22 1129.11,61.61 1129.49,62.01 1129.86,62.42 1130.24,62.85 1130.61,63.28 1130.99,63.73 1131.37,64.19 1131.74,64.65 1132.12,65.13 1132.49,65.62 1132.87,66.12 1133.25,66.62 1133.62,67.14 1134.00,67.67 1134.38,68.20 1134.75,68.75 1135.13,69.30 1135.50,69.86 1135.88,70.43 1136.26,71.01 1136.63,71.60 1137.01,72.19 1137.39,72.79 1137.76,73.41 1138.14,74.02 1138.51,74.65 1138.89,75.28 1139.27,75.92 1139.64,76.57 1140.02,77.23 1140.40,77.89 1140.77,78.56 1141.15,79.23 1141.52,79.91 1141.90,80.60 1143.40,83.41 1144.91,86.31 1146.41,89.30 1147.92,92.36 1149.42,95.48 1150.93,98.68 1152.43,101.93 1153.94,105.22 1155.44,108.57 1156.95,111.95 1158.45,115.37 1159.96,118.82 1161.46,122.30 1162.97,125.80 1164.47,129.31 1165.98,132.84 1167.48,136.38 1168.99,139.93 1170.49,143.48 1172.00,147.03 1173.50,150.58 1175.01,154.13 1176.51,157.67 1178.02,161.20 1179.52,164.71 1181.02,168.22 1182.53,171.71 1184.03,175.18 1185.54,178.63 1187.04,182.06 1188.55,185.47 1190.05,188.85 1191.56,192.22 1193.06,195.55 1194.57,198.86 1196.07,202.14 1197.58,205.39 1199.08,208.61 1200.59,211.80 1202.09,214.96 1203.60,218.09 1205.10,221.19 1206.61,224.25 1208.11,227.28 1209.62,230.28 1211.12,233.24 1212.63,236.17 1214.13,239.06 1215.64,241.92 1217.14,244.74 1218.64,247.53 1220.15,250.28 1221.65,252.99 1223.16,255.67 1224.66,258.32 1226.17,260.93 1227.67,263.50 1229.18,266.04 1230.68,268.55 1232.19,271.01 1233.69,273.45 1235.20,275.85 1236.70,278.21 1238.21,280.54 1239.71,282.83 1241.22,285.09 1242.72,287.32 1244.23,289.51 1245.73,291.67 1247.24,293.80 1248.74,295.89 1250.25,297.96 1251.75,299.98 1253.26,301.98 1254.76,303.95 1256.26,305.88 1257.77,307.78 1259.27,309.66 1260.78,311.50 1262.28,313.31 1263.79,315.09 1265.29,316.84 1266.80,318.57 1268.30,320.26 1269.81,321.93 1271.31,323.57 1272.82,325.18 1274.32,326.77 1275.83,328.32 1277.33,329.85 1278.84,331.36 1280.34,332.84 1281.85,334.29 1283.35,335.72 1284.86,337.12 1286.36,338.50 1287.87,339.86 1289.37,341.19 1290.88,342.50 1292.38,343.78 1293.88,345.05 1295.39,346.29 1296.89,347.51 1298.40,348.70 1299.90,349.88 1301.41,351.03 1302.91,352.17 1304.42,353.28 1305.92,354.37 1307.43,355.45 1308.93,356.50 1310.44,357.53 1311.94,358.55 1313.45,359.55 1314.95,360.53 1316.46,361.49 1317.96,362.44 1319.47,363.36 1320.97,364.27 1322.48,365.17 1323.98,366.04 1325.49,366.90 1326.99,367.75 1328.50,368.58 1330.00,369.39 1331.50,370.19 1333.01,370.97 1334.51,371.74 1336.02,372.50 1337.52,373.24 1339.03,373.97 1340.53,374.68 1342.04,375.38 1343.54,376.07 1345.05,376.74 1346.55,377.40 1348.06,378.05 1349.56,378.69 1351.07,379.31 1352.57,379.93 1354.08,380.53 1355.58,381.12 1357.09,381.70 1358.59,382.27 1360.10,382.82 1361.60,383.37 1363.11,383.91 1364.61,384.43 1366.12,384.95 1367.62,385.45 1369.12,385.95 1370.63,386.44 1372.13,386.92 1373.64,387.38 1375.14,387.84 1376.65,388.29 1378.15,388.74 1379.66,389.17 1381.16,389.60 1382.67,390.01 1384.17,390.42 1385.68,390.82 1387.18,391.22 1388.69,391.60 1390.19,391.98 1391.70,392.35 1393.20,392.72 1394.71,393.08 1396.21,393.43 1397.72,393.77 1399.22,394.11 1400.73,394.44 1402.23,394.76 1403.74,395.08 1405.24,395.39 1406.74,395.70 1408.25,396.00 1409.75,396.29 1411.26,396.58 1412.76,396.86 1414.27,397.14 1415.77,397.41 1417.28,397.68 1418.78,397.94 1420.29,398.19 1421.79,398.45 1423.30,398.69 1424.80,398.93 1426.31,399.17 1427.81,399.40 1429.32,399.63 1430.82,399.85 1432.33,400.07 1433.83,400.29 1435.34,400.50 1436.84,400.71 1438.35,400.91 1439.85,401.11 1441.36,401.30 1442.86,401.49"/>
<polyline stroke="#bfbf00" points="1066.66,411.00 1067.04,401.95 1067.41,393.09 1067.79,384.40 1068.16,375.88 1068.54,367.53 1068.92,359.36 1069.29,351.35 1069.67,343.50 1070.05,335.81 1070.42,328.28 1070.80,320.91 1071.17,313.68 1071.55,306.61 1071.93,299.69 1072.30,292.91 1072.68,286.28 1073.06,279.78 1073.43,273.43 1073.81,267.20 1074.18,261.12 1074.56,255.16 1074.94,249.34 1075.31,243.64 1075.69,238.07 1076.06,232.62 1076.44,227.29 1076.82,222.08 1077.19,216.99 1077.57,212.01 1077.95,207.15 1078.32,202.40 1078.70,197.75 1079.07,193.22 1079.45,188.79 1079.83,184.47 1080.20,180.24 1080.58,176.12 1080.96,172.10 1081.33,168.18 1081.71,164.35 1082.08,160.61 1082.46,156.97 1082.84,153.42 1083.21,149.96 1083.59,146.58 1083.97,143.29 1084.34,140.09 1084.72,136.97 1085.09,133.94 1085.47,130.98 1085.85,128.10 1086.22,125.30 1086.60,122.58 1086.97,119.93 1087.35,117.36 1087.73,114.86 1088.10,112.43 1088.48,110.07 1088.86,107.78 1089.23,105.56 1089.61,103.41 1089.98,101.32 1090.36,99.29 1090.74,97.33 1091.11,95.43 1091.49,93.59 1091.87,91.81 1092.24,90.09 1092.62,88.43 1092.99,86.83 1093.37,85.28 1093.75,83.78 1094.12,82.34 1094.50,80.96 1094.87,79.62 1095.25,78.34 1095.63,77.10 1096.00,75.92 1096.38,74.78 1096.76,73.69 1097.13,72.65 1097.51,71.65 1097.88,70.70 1098.26,69.79 1098.64,68.93 1099.01,68.11 1099.39,67.33 1099.77,66.59 1100.14,65.89 1100.52,65.23 1100.89,64.61 1101.27,64.02 1101.65,63.48 1102.02,62.97 1102.40,62.50 1102.78,62.06 1103.15,61.66 1103.53,61.29 1103.90,60.95 1104.28,60.65 1104.66,60.38 1105.03,60.14 1105.41,59.93 1105.78,59.75 1106.16,59.60 1106.54,59.48 1106.91,59.39 1107.29,59.32 1107.67,59.29 1108.04,59.28 1108.42,59.29 1108.79,59.34 1109.17,59.40 1109.55,59.50 1109.92,59.61 1110.30,59.75 1110.68,59.92 1111.05,60.10 1111.43,60.31 1111.80,60.54 1112.18,60.80 1112.56,61.07 1112.93,61.36 1113.31,61.68 1113.68,62.01 1114.06,62.37 1114.44,62.74 1114.81,63.13 1115.19,63.54 1115.57,63.96 1115.94,64.41 1116.32,64.87 1116.69,65.34 1117.07,65.84 1117.45,66.35 1117.82,66.87 1118.20,67.41 1118.58,67.97 1118.95,68.54 1119.33,69.12 1119.70,69.72 1120.08,70.33 1120.46,70.95 1120.83,71.59 1121.21,72.24 1121.59,72.90 1121.96,73.57 1122.34,74.26 1122.71,74.96 1123.09,75.66 1123.47,76.38 1123.84,77.11 1124.22,77.85 1124.59,78.60 1124.97,79.36 1125.35,80.13 1125.72,80.91 1126.10,81.70 1126.48,82.49 1126.85,83.30 1127.23,84.11 1127.60,84.94 1127.98,85.76 1128.36,86.60 1128.73,87.45 1129.11,88.30 1129.49,89.16 1129.86,90.03 1130.24,90.90 1130.61,91.78 1130.99,92.66 1131.37,93.56 1131.74,94.45 1132.12,95.36 1132.49,96.27 1132.87,97.18 1133.25,98.10 1133.62,99.02 1134.00,99.95 1134.38,100.89 1134.75,101.83 1135.13,102.77 1135.50,103.72 1135.88,104.67 1136.26,105.62 1136.63,106.58 1137.01,107.54 1137.39,108.51 1137.76,109.48 1138.14,110.45 1138.51,111.43 1138.89,112.41 1139.27,113.39 1139.64,114.37 1140.02,115.36 1140.40,116.35 1140.77,117.34 1141.15,118.33 1141.52,119.33 1141.90,120.33 1143.40,124.33 1144.91,128.36 1146.41,132.41 1147.92,136.46 1149.42,140.52 1150.93,144.59 1152.43,148.64 1153.94,152.69 1155.44,156.72 1156.95,160.74 1158.45,164.73 1159.96,168.70 1161.46,172.65 1162.97,176.57 1164.47,180.46 1165.98,184.31 1167.48,188.13 1168.99,191.91 1170.49,195.66 1172.00,199.36 1173.50,203.03 1175.01,206.65 1176.51,210.23 1178.02,213.76 1179.52,217.25 1181.02,220.70 1182.53,224.10 1184.03,227.46 1185.54,230.76 1187.04,234.03 1188.55,237.24 1190.05,240.41 1191.56,243.53 1193.06,246.61 1194.57,249.63 1196.07,252.62 1197.58,255.55 1199.08,258.44 1200.59,261.28 1202.09,264.08 1203.60,266.83 1205.10,269.53 1206.61,272.19 1208.11,274.81 1209.62,277.38 1211.12,279.91 1212.63,282.39 1214.13,284.84 1215.64,287.24 1217.14,289.60 1218.64,291.91 1220.15,294.19 1221.65,296.42 1223.16,298.62 1224.66,300.78 1226.17,302.89 1227.67,304.97 1229.18,307.02 1230.68,309.02 1232.19,310.99 1233.69,312.92 1235.20,314.82 1236.70,316.68 1238.21,318.51 1239.71,320.30 1241.22,322.06 1242.72,323.79 1244.23,325.49 1245.73,327.15 1247.24,328.78 1248.74,330.39 1250.25,331.96 1251.75,333.50 1253.26,335.01 1254.76,336.50 1256.26,337.95 1257.77,339.38 1259.27,340.78 1260.78,342.15 1262.28,343.50 1263.79,344.83 1265.29,346.12 1266.80,347.39 1268.30,348.64 1269.81,349.86 1271.31,351.06 1272.82,352.24 1274.32,353.40 1275.83,354.53 1277.33,355.64 1278.84,356.73 1280.34,357.79 1281.85,358.84 1283.35,359.87 1284.86,360.87 1286.36,361.86 1287.87,362.83 1289.37,363.77 1290.88,364.71 1292.38,365.62 1293.88,366.51 1295.39,367.39 1296.89,368.25 1298.40,369.09 1299.90,369.92 1301.41,370.73 1302.91,371.52 1304.42,372.30 1305.92,373.06 1307.43,373.81 1308.93,374.55 1310.44,375.27 1311.94,375.97 1313.45,376.66 1314.95,377.34 1316.46,378.01 1317.96,378.66 1319.47,379.30 1320.97,379.92 1322.48,380.54 1323.98,381.14 1325.49,381.73 1326.99,382.31 1328.50,382.87 1330.00,383.43 1331.50,383.98 1333.01,384.51 1334.51,385.03 1336.02,385.55 1337.52,386.05 1339.03,386.54 1340.53,387.03 1342.04,387.50 1343.54,387.97 1345.05,388.42 1346.55,388.87 1348.06,389.31 1349.56,389.73 1351.07,390.16 1352.57,390.57 1354.08,390.97 1355.58,391.37 1357.09,391.76 1358.59,392.14 1360.10,392.51 1361.60,392.88 1363.11,393.23 1364.61,393.59 1366.12,393.93 1367.62,394.27 1369.12,394.60 1370.63,394.92 1372.13,395.24 1373.64,395.55 1375.14,395.86 1376.65,396.16 1378.15,396.45 1379.66,396.74 1381.16,397.02 1382.67,397.30 1384.17,397.57 1385.68,397.84 1387.18,398.10 1388.69,398.35 1390.19,398.60 1391.70,398.85 1393.20,399.09 1394.71,399.32 1396.21,399.56 1397.72,399.78 1399.22,400.00 1400.73,400.22 1402.23,400.44 1403.74,400.64 1405.24,400.85 1406.74,401.05 1408.25,401.25 1409.75,401.44 1411.26,401.63 1412.76,401.82 1414.27,402.00 1415.77,402.18 1417.28,402.35 1418.78,402.52 1420.29,402.69 1421.79,402.85 1423.30,403.02 1424.80,403.17 1426.31,403.33 1427.81,403.48 1429.32,403.63 1430.82,403.77 1432.33,403.92 1433.83,404.06 1435.34,404.20 1436.84,404.33 1438.35,404.46 1439.85,404.59 1441.36,404.72 1442.86,404.84"/>
<polyline stroke="#0000ff" points="1066.66,411.00 1067.04,398.25 1067.41,385.88 1067.79,373.87 1068.16,362.23 1068.54,350.93 1068.92,339.98 1069.29,329.36 1069.67,319.06 1070.05,309.08 1070.42,299.41 1070.80,290.04 1071.17,280.95 1071.55,272.16 1071.93,263.64 1072.30,255.39 1072.68,247.40 1073.06,239.67 1073.43,232.19 1073.81,224.95 1074.18,217.95 1074.56,211.18 1074.94,204.63 1075.31,198.30 1075.69,192.19 1076.06,186.28 1076.44,180.58 1076.82,175.07 1077.19,169.75 1077.57,164.63 1077.95,159.68 1078.32,154.91 1078.70,150.31 1079.07,145.88 1079.45,141.62 1079.83,137.51 1080.20,133.56 1080.58,129.76 1080.96,126.11 1081.33,122.60 1081.71,119.23 1082.08,115.99 1082.46,112.89 1082.84,109.91 1083.21,107.06 1083.59,104.33 1083.97,101.72 1084.34,99.23 1084.72,96.84 1085.09,94.57 1085.47,92.40 1085.85,90.34 1086.22,88.38 1086.60,86.51 1086.97,84.74 1087.35,83.06 1087.73,81.47 1088.10,79.97 1088.48,78.56 1088.86,77.22 1089.23,75.97 1089.61,74.80 1089.98,73.70 1090.36,72.67 1090.74,71.72 1091.11,70.84 1091.49,70.03 1091.87,69.28 1092.24,68.59 1092.62,67.97 1092.99,67.41 1093.37,66.91 1093.75,66.46 1094.12,66.08 1094.50,65.74 1094.87,65.46 1095.25,65.22 1095.63,65.04 1096.00,64.91 1096.38,64.82 1096.76,64.78 1097.13,64.78 1097.51,64.82 1097.88,64.91 1098.26,65.03 1098.64,65.20 1099.01,65.40 1099.39,65.64 1099.77,65.91 1100.14,66.22 1100.52,66.56 1100.89,66.93 1101.27,67.34 1101.65,67.78 1102.02,68.24 1102.40,68.73 1102.78,69.25 1103.15,69.80 1103.53,70.38 1103.90,70.97 1104.28,71.60 1104.66,72.24 1105.03,72.91 1105.41,73.60 1105.78,74.31 1106.16,75.05 1106.54,75.80 1106.91,76.57 1107.29,77.36 1107.67,78.17 1108.04,78.99 1108.42,79.83 1108.79,80.69 1109.17,81.56 1109.55,82.45 1109.92,83.35 1110.30,84.26 1110.68,85.19 1111.05,86.13 1111.43,87.08 1111.80,88.05 1112.18,89.03 1112.56,90.01 1112.93,91.01 1113.31,92.02 1113.68,93.03 1114.06,94.06 1114.44,95.09 1114.81,96.14 1115.19,97.19 1115.57,98.24 1115.94,99.31 1116.32,100.38 1116.69,101.46 1117.07,102.55 1117.45,103.64 1117.82,104.73 1118.20,105.84 1118.58,106.94 1118.95,108.05 1119.33,109.17 1119.70,110.29 1120.08,111.41 1120.46,112.54 1120.83,113.67 1121.21,114.81 1121.59,115.95 1121.96,117.09 1122.34,118.23 1122.71,119.37 1123.09,120.52 1123.47,121.67 1123.84,122.82 1124.22,123.97 1124.59,125.13 1124.97,126.28 1125.35,127.44 1125.72,128.59 1126.10,129.75 1126.48,130.91 1126.85,132.06 1127.23,133.22 1127.60,134.38 1127.98,135.54 1128.36,136.69 1128.73,137.85 1129.11,139.01 1129.49,140.16 1129.86,141.32 1130.24,142.47 1130.61,143.62 1130.99,144.78 1131.37,145.93 1131.74,147.07 1132.12,148.22 1132.49,149.37 1132.87,150.51 1133.25,151.66 1133.62,152.80 1134.00,153.94 1134.38,155.07 1134.75,156.21 1135.13,157.34 1135.50,158.47 1135.88,159.60 1136.26,160.72 1136.63,161.85 1137.01,162.97 1137.39,164.09 1137.76,165.20 1138.14,166.31 1138.51,167.42 1138.89,168.53 1139.27,169.64 1139.64,170.74 1140.02,171.84 1140.40,172.93 1140.77,174.02 1141.15,175.11 1141.52,176.20 1141.90,177.28 1143.40,181.58 1144.91,185.83 1146.41,190.02 1147.92,194.15 1149.42,198.22 1150.93,202.24 1152.43,206.19 1153.94,210.08 1155.44,213.91 1156.95,217.68 1158.45,221.39 1159.96,225.03 1161.46,228.62 1162.97,232.14 1164.47,235.60 1165.98,239.00 1167.48,242.34 1168.99,245.62 1170.49,248.84 1172.00,252.00 1173.50,255.11 1175.01,258.15 1176.51,261.14 1178.02,264.08 1179.52,266.96 1181.02,269.78 1182.53,272.55 1184.03,275.27 1185.54,277.94 1187.04,280.56 1188.55,283.12 1190.05,285.64 1191.56,288.11 1193.06,290.53 1194.57,292.91 1196.07,295.23 1197.58,297.52 1199.08,299.76 1200.59,301.95 1202.09,304.10 1203.60,306.21 1205.10,308.28 1206.61,310.31 1208.11,312.30 1209.62,314.25 1211.12,316.17 1212.63,318.04 1214.13,319.88 1215.64,321.68 1217.14,323.45 1218.64,325.18 1220.15,326.87 1221.65,328.54 1223.16,330.17 1224.66,331.77 1226.17,333.34 1227.67,334.87 1229.18,336.38 1230.68,337.86 1232.19,339.30 1233.69,340.72 1235.20,342.11 1236.70,343.48 1238.21,344.81 1239.71,346.12 1241.22,347.41 1242.72,348.67 1244.23,349.90 1245.73,351.11 1247.24,352.29 1248.74,353.46 1250.25,354.60 1251.75,355.71 1253.26,356.81 1254.76,357.88 1256.26,358.93 1257.77,359.96 1259.27,360.97 1260.78,361.96 1262.28,362.93 1263.79,363.89 1265.29,364.82 1266.80,365.73 1268.30,366.63 1269.81,367.51 1271.31,368.37 1272.82,369.21 1274.32,370.04 1275.83,370.85 1277.33,371.65 1278.84,372.43 1280.34,373.19 1281.85,373.94 1283.35,374.67 1284.86,375.39 1286.36,376.10 1287.87,376.79 1289.37,377.46 1290.88,378.13 1292.38,378.78 1293.88,379.42 1295.39,380.04 1296.89,380.66 1298.40,381.26 1299.90,381.85 1301.41,382.42 1302.91,382.99 1304.42,383.54 1305.92,384.09 1307.43,384.62 1308.93,385.14 1310.44,385.65 1311.94,386.16 1313.45,386.65 1314.95,387.13 1316.46,387.60 1317.96,388.07 1319.47,388.52 1320.97,388.97 1322.48,389.40 1323.98,389.83 1325.49,390.25 1326.99,390.66 1328.50,391.06 1330.00,391.46 1331.50,391.84 1333.01,392.22 1334.51,392.60 1336.02,392.96 1337.52,393.32 1339.03,393.67 1340.53,394.01 1342.04,394.35 1343.54,394.68 1345.05,395.00 1346.55,395.32 1348.06,395.63 1349.56,395.93 1351.07,396.23 1352.57,396.52 1354.08,396.81 1355.58,397.09 1357.09,397.37 1358.59,397.64 1360.10,397.90 1361.60,398.16 1363.11,398.41 1364.61,398.66 1366.12,398.91 1367.62,399.15 1369.12,399.38 1370.63,399.61 1372.13,399.84 1373.64,400.06 1375.14,400.27 1376.65,400.49 1378.15,400.70 1379.66,400.90 1381.16,401.10 1382.67,401.30 1384.17,401.49 1385.68,401.68 1387.18,401.86 1388.69,402.04 1390.19,402.22 1391.70,402.39 1393.20,402.56 1394.71,402.73 1396.21,402.89 1397.72,403.05 1399.22,403.21 1400.73,403.37 1402.23,403.52 1403.74,403.67 1405.24,403.81 1406.74,403.95 1408.25,404.09 1409.75,404.23 1411.26,404.36 1412.76,404.49 1414.27,404.62 1415.77,404.75 1417.28,404.87 1418.78,404.99 1420.29,405.11 1421.79,405.23 1423.30,405.34 1424.80,405.46 1426.31,405.57 1427.81,405.67 1429.32,405.78 1430.82,405.88 1432.33,405.98 1433.83,406.08 1435.34,406.18 1436.84,406.28 1438.35,406.37 1439.85,406.46 1441.36,406.55 1442.86,406.64"/>
<polyline stroke="#008000" points="1066.66,411.00 1067.04,389.82 1067.41,369.78 1067.79,350.82 1068.16,332.89 1068.54,315.94 1068.92,299.92 1069.29,284.79 1069.67,270.49 1070.05,256.99 1070.42,244.26 1070.80,232.24 1071.17,220.92 1071.55,210.24 1071.93,200.19 1072.30,190.72 1072.68,181.81 1073.06,173.44 1073.43,165.57 1073.81,158.19 1074.18,151.26 1074.56,144.76 1074.94,138.68 1075.31,132.99 1075.69,127.67 1076.06,122.70 1076.44,118.07 1076.82,113.76 1077.19,109.75 1077.57,106.03 1077.95,102.58 1078.32,99.40 1078.70,96.46 1079.07,93.75 1079.45,91.26 1079.83,88.99 1080.20,86.91 1080.58,85.03 1080.96,83.33 1081.33,81.79 1081.71,80.42 1082.08,79.20 1082.46,78.13 1082.84,77.20 1083.21,76.40 1083.59,75.72 1083.97,75.16 1084.34,74.71 1084.72,74.37 1085.09,74.12 1085.47,73.98 1085.85,73.92 1086.22,73.95 1086.60,74.06 1086.97,74.24 1087.35,74.50 1087.73,74.82 1088.10,75.21 1088.48,75.66 1088.86,76.17 1089.23,76.73 1089.61,77.34 1089.98,78.00 1090.36,78.71 1090.74,79.46 1091.11,80.25 1091.49,81.08 1091.87,81.94 1092.24,82.84 1092.62,83.77 1092.99,84.73 1093.37,85.72 1093.75,86.73 1094.12,87.77 1094.50,88.83 1094.87,89.91 1095.25,91.02 1095.63,92.14 1096.00,93.28 1096.38,94.43 1096.76,95.61 1097.13,96.79 1097.51,97.99 1097.88,99.20 1098.26,100.42 1098.64,101.65 1099.01,102.89 1099.39,104.14 1099.77,105.40 1100.14,106.66 1100.52,107.93 1100.89,109.21 1101.27,110.49 1101.65,111.78 1102.02,113.07 1102.40,114.36 1102.78,115.66 1103.15,116.96 1103.53,118.26 1103.90,119.56 1104.28,120.86 1104.66,122.17 1105.03,123.47 1105.41,124.78 1105.78,126.08 1106.16,127.38 1106.54,128.69 1106.91,129.99 1107.29,131.29 1107.67,132.59 1108.04,133.89 1108.42,135.18 1108.79,136.48 1109.17,137.77 1109.55,139.06 1109.92,140.34 1110.30,141.62 1110.68,142.90 1111.05,144.18 1111.43,145.45 1111.80,146.72 1112.18,147.99 1112.56,149.25 1112.93,150.51 1113.31,151.76 1113.68,153.01 1114.06,154.26 1114.44,155.50 1114.81,156.74 1115.19,157.97 1115.57,159.20 1115.94,160.42 1116.32,161.64 1116.69,162.86 1117.07,164.07 1117.45,165.27 1117.82,166.47 1118.20,167.67 1118.58,168.86 1118.95,170.05 1119.33,171.23 1119.70,172.40 1120.08,173.58 1120.46,174.74 1120.83,175.90 1121.21,177.06 1121.59,178.21 1121.96,179.36 1122.34,180.50 1122.71,181.64 1123.09,182.77 1123.47,183.90 1123.84,185.02 1124.22,186.13 1124.59,187.25 1124.97,188.35 1125.35,189.45 1125.72,190.55 1126.10,191.64 1126.48,192.73 1126.85,193.81 1127.23,194.88 1127.60,195.96 1127.98,197.02 1128.36,198.08 1128.73,199.14 1129.11,200.19 1129.49,201.24 1129.86,202.28 1130.24,203.31 1130.61,204.34 1130.99,205.37 1131.37,206.39 1131.74,207.41 1132.12,208.42 1132.49,209.43 1132.87,210.43 1133.25,211.43 1133.62,212.42 1134.00,213.41 1134.38,214.39 1134.75,215.37 1135.13,216.34 1135.50,217.31 1135.88,218.27 1136.26,219.23 1136.63,220.19 1137.01,221.14 1137.39,222.08 1137.76,223.02 1138.14,223.96 1138.51,224.89 1138.89,225.82 1139.27,226.74 1139.64,227.66 1140.02,228.57 1140.40,229.48 1140.77,230.38 1141.15,231.28 1141.52,232.18 1141.90,233.07 1143.40,236.59 1144.91,240.04 1146.41,243.42 1147.92,246.74 1149.42,249.99 1150.93,253.18 1152.43,256.30 1153.94,259.36 1155.44,262.36 1156.95,265.31 1158.45,268.19 1159.96,271.02 1161.46,273.79 1162.97,276.51 1164.47,279.17 1165.98,281.78 1167.48,284.34 1168.99,286.85 1170.49,289.30 1172.00,291.71 1173.50,294.08 1175.01,296.39 1176.51,298.66 1178.02,300.88 1179.52,303.07 1181.02,305.20 1182.53,307.30 1184.03,309.35 1185.54,311.36 1187.04,313.34 1188.55,315.27 1190.05,317.17 1191.56,319.02 1193.06,320.85 1194.57,322.63 1196.07,324.38 1197.58,326.10 1199.08,327.78 1200.59,329.42 1202.09,331.04 1203.60,332.62 1205.10,334.18 1206.61,335.70 1208.11,337.19 1209.62,338.65 1211.12,340.08 1212.63,341.49 1214.13,342.86 1215.64,344.21 1217.14,345.53 1218.64,346.83 1220.15,348.10 1221.65,349.35 1223.16,350.57 1224.66,351.76 1226.17,352.94 1227.67,354.09 1229.18,355.21 1230.68,356.32 1232.19,357.40 1233.69,358.46 1235.20,359.50 1236.70,360.52 1238.21,361.52 1239.71,362.50 1241.22,363.46 1242.72,364.40 1244.23,365.33 1245.73,366.23 1247.24,367.12 1248.74,367.99 1250.25,368.84 1251.75,369.67 1253.26,370.49 1254.76,371.29 1256.26,372.08 1257.77,372.85 1259.27,373.61 1260.78,374.35 1262.28,375.07 1263.79,375.78 1265.29,376.48 1266.80,377.16 1268.30,377.83 1269.81,378.49 1271.31,379.13 1272.82,379.77 1274.32,380.38 1275.83,380.99 1277.33,381.58 1278.84,382.17 1280.34,382.74 1281.85,383.30 1283.35,383.85 1284.86,384.38 1286.36,384.91 1287.87,385.43 1289.37,385.93 1290.88,386.43 1292.38,386.92 1293.88,387.39 1295.39,387.86 1296.89,388.32 1298.40,388.77 1299.90,389.21 1301.41,389.64 1302.91,390.06 1304.42,390.48 1305.92,390.88 1307.43,391.28 1308.93,391.67 1310.44,392.06 1311.94,392.43 1313.45,392.80 1314.95,393.16 1316.46,393.51 1317.96,393.86 1319.47,394.20 1320.97,394.53 1322.48,394.86 1323.98,395.18 1325.49,395.49 1326.99,395.80 1328.50,396.10 1330.00,396.39 1331.50,396.68 1333.01,396.97 1334.51,397.24 1336.02,397.52 1337.52,397.78 1339.03,398.04 1340.53,398.30 1342.04,398.55 1343.54,398.80 1345.05,399.04 1346.55,399.28 1348.06,399.51 1349.56,399.74 1351.07,399.96 1352.57,400.18 1354.08,400.39 1355.58,400.60 1357.09,400.81 1358.59,401.01 1360.10,401.21 1361.60,401.40 1363.11,401.59 1364.61,401.78 1366.12,401.96 1367.62,402.14 1369.12,402.32 1370.63,402.49 1372.13,402.66 1373.64,402.82 1375.14,402.98 1376.65,403.14 1378.15,403.30 1379.66,403.45 1381.16,403.60 1382.67,403.75 1384.17,403.89 1385.68,404.03 1387.18,404.17 1388.69,404.30 1390.19,404.44 1391.70,404.57 1393.20,404.69 1394.71,404.82 1396.21,404.94 1397.72,405.06 1399.22,405.18 1400.73,405.29 1402.23,405.41 1403.74,405.52 1405.24,405.63 1406.74,405.73 1408.25,405.84 1409.75,405.94 1411.26,406.04 1412.76,406.14 1414.27,406.23 1415.77,406.33 1417.28,406.42 1418.78,406.51 1420.29,406.60 1421.79,406.69 1423.30,406.77 1424.80,406.86 1426.31,406.94 1427.81,407.02 1429.32,407.10 1430.82,407.18 1432.33,407.25 1433.83,407.33 1435.34,407.40 1436.84,407.47 1438.35,407.54 1439.85,407.61 1441.36,407.67 1442.86,407.74"/>
</g>
<g stroke="#1c1c1c" stroke-width="1.2">
<line x1="1066.66" y1="428.5" x2="1066.66" y2="433.70"/>
<line x1="1141.90" y1="428.5" x2="1141.90" y2="433.70"/>
<line x1="1217.14" y1="428.5" x2="1217.14" y2="433.70"/>
<line x1="1292.38" y1="428.5" x2="1292.38" y2="433.70"/>
<line x1="1367.62" y1="428.5" x2="1367.62" y2="433.70"/>
<line x1="1442.86" y1="428.5" x2="1442.86" y2="433.70"/>
<line x1="1042.66" y1="411.10" x2="1047.86" y2="411.10"/>
<line x1="1042.66" y1="356.35" x2="1047.86" y2="356.35"/>
<line x1="1042.66" y1="301.60" x2="1047.86" y2="301.60"/>
<line x1="1042.66" y1="246.85" x2="1047.86" y2="246.85"/>
<line x1="1042.66" y1="192.09" x2="1047.86" y2="192.09"/>
<line x1="1042.66" y1="137.34" x2="1047.86" y2="137.34"/>
<line x1="1042.66" y1="82.59" x2="1047.86" y2="82.59"/>
</g>
<g font-family='"Liberation Sans", sans-serif' font-size="15.0" fill="#000" stroke="#000" stroke-width="0.2" text-rendering="geometricPrecision">
<text transform="translate(1066.66,449.40) scale(1.015,1)" text-anchor="middle">0</text>
<text transform="translate(1141.90,449.40) scale(1.015,1)" text-anchor="middle">200</text>
<text transform="translate(1217.14,449.40) scale(1.015,1)" text-anchor="middle">400</text>
<text transform="translate(1292.38,449.40) scale(1.015,1)" text-anchor="middle">600</text>
<text transform="translate(1367.62,449.40) scale(1.015,1)" text-anchor="middle">800</text>
<text transform="translate(1442.86,449.40) scale(1.015,1)" text-anchor="middle">1000</text>
<text transform="translate(1037.46,416.40) scale(1.015,1)" text-anchor="end">0.0</text>
<text transform="translate(1037.46,361.65) scale(1.015,1)" text-anchor="end">0.2</text>
<text transform="translate(1037.46,306.90) scale(1.015,1)" text-anchor="end">0.4</text>
<text transform="translate(1037.46,252.15) scale(1.015,1)" text-anchor="end">0.6</text>
<text transform="translate(1037.46,197.39) scale(1.015,1)" text-anchor="end">0.8</text>
<text transform="translate(1037.46,142.64) scale(1.015,1)" text-anchor="end">1.0</text>
<text transform="translate(1037.46,87.89) scale(1.015,1)" text-anchor="end">1.2</text>
</g>
<rect x="1047.86" y="38.0" width="413.85" height="390.50" fill="none" stroke="#1c1c1c" stroke-width="1.2"/>
<text x="1062.44" y="22.50" font-family='"Liberation Serif", serif' font-size="33.83" font-weight="bold" fill="#000">Standard Organised Level</text>
<text x="1196.02" y="482.80" font-family='"Liberation Serif", serif' font-size="33.85" fill="#000">Timestep</text>
<text x="1240.28" y="520.00" font-family='"Liberation Serif", serif' font-size="33.75" font-weight="bold" fill="#000" letter-spacing="0.588">(c)</text>
<g transform="translate(1257.50,45.90) scale(1.033)">
<rect x="0" y="0" width="192.5" height="146.2" rx="4" ry="4" fill="#fff" fill-opacity="0.8" stroke="#d3d3d3" stroke-width="2.3"/>
<line x1="7.2" y1="18.75" x2="54.3" y2="18.75" stroke="#ff0000" stroke-width="3.7"/>
<line x1="7.2" y1="53.62" x2="54.3" y2="53.62" stroke="#bfbf00" stroke-width="3.7"/>
<line x1="7.2" y1="88.49" x2="54.3" y2="88.49" stroke="#0000ff" stroke-width="3.7"/>
<line x1="7.2" y1="123.36" x2="54.3" y2="123.36" stroke="#008000" stroke-width="3.7"/>
<text y="25.60" font-family='"Liberation Sans", sans-serif' font-size="22.86" fill="#000" stroke="#000" stroke-width="0.3"><tspan x="69.70" font-family='"DejaVu Sans", "Liberation Sans", sans-serif' font-style="italic" font-size="22.0" stroke="none">β</tspan><tspan x="98.75" text-anchor="middle"> = </tspan><tspan x="122.30" text-anchor="middle">2</tspan><tspan x="141.70" text-anchor="middle"> * </tspan><tspan x="154.61" font-family='"DejaVu Sans", "Liberation Sans", sans-serif' font-style="italic" font-size="22.0" stroke="none">α</tspan></text>
<text y="60.47" font-family='"Liberation Sans", sans-serif' font-size="22.86" fill="#000" stroke="#000" stroke-width="0.3"><tspan x="69.70" font-family='"DejaVu Sans", "Liberation Sans", sans-serif' font-style="italic" font-size="22.0" stroke="none">β</tspan><tspan x="98.75" text-anchor="middle"> = </tspan><tspan x="122.30" text-anchor="middle">3</tspan><tspan x="141.70" text-anchor="middle"> * </tspan><tspan x="154.61" font-family='"DejaVu Sans", "Liberation Sans", sans-serif' font-style="italic" font-size="22.0" stroke="none">α</tspan></text>
<text y="95.34" font-family='"Liberation Sans", sans-serif' font-size="22.86" fill="#000" stroke="#000" stroke-width="0.3"><tspan x="69.70" font-family='"DejaVu Sans", "Liberation Sans", sans-serif' font-style="italic" font-size="22.0" stroke="none">β</tspan><tspan x="98.75" text-anchor="middle"> = </tspan><tspan x="122.30" text-anchor="middle">5</tspan><tspan x="141.70" text-anchor="middle"> * </tspan><tspan x="154.61" font-family='"DejaVu Sans", "Liberation Sans", sans-serif' font-style="italic" font-size="22.0" stroke="none">α</tspan></text>
<text y="130.21" font-family='"Liberation Sans", sans-serif' font-size="22.86" fill="#000" stroke="#000" stroke-width="0.3"><tspan x="69.70" font-family='"DejaVu Sans", "Liberation Sans", sans-serif' font-style="italic" font-size="22.0" stroke="none">β</tspan><tspan x="98.75" text-anchor="middle"> = </tspan><tspan x="130.00" text-anchor="middle">10</tspan><tspan x="155.60" text-anchor="middle"> * </tspan><tspan x="168.51" font-family='"DejaVu Sans", "Liberation Sans", sans-serif' font-style="italic" font-size="22.0" stroke="none">α</tspan></text>
</g>
</g>
<g id="panel-d">
<g fill="none" stroke-width="2.1" stroke-linecap="square" stroke-linejoin="round">
<polyline stroke="#ff0000" points="1555.79,411.00 1556.17,288.65 1556.54,200.13 1556.92,138.18 1557.29,97.00 1557.67,71.91 1558.05,59.17 1558.42,55.80 1558.80,59.43 1559.18,68.19 1559.55,80.59 1559.93,95.47 1560.30,111.94 1560.68,129.30 1561.06,147.02 1561.43,164.70 1561.81,182.05 1562.19,198.85 1562.56,214.96 1562.94,230.27 1563.31,244.73 1563.69,258.31 1564.07,271.01 1564.44,282.83 1564.82,293.80 1565.19,303.94 1565.57,313.31 1565.95,321.93 1566.32,329.85 1566.70,337.12 1567.08,343.78 1567.45,349.87 1567.83,355.44 1568.20,360.53 1568.58,365.16 1568.96,369.39 1569.33,373.24 1569.71,376.74 1570.09,379.93 1570.46,382.82 1570.84,385.45 1571.21,387.84 1571.59,390.01 1571.97,391.98 1572.34,393.77 1572.72,395.39 1573.10,396.86 1573.47,398.19 1573.85,399.40 1574.22,400.50 1574.60,401.49 1574.98,402.39 1575.35,403.20 1575.73,403.94 1576.10,404.61 1576.48,405.22 1576.86,405.77 1577.23,406.26 1577.61,406.71 1577.99,407.12 1578.36,407.49 1578.74,407.82 1579.11,408.12 1579.49,408.40 1579.87,408.64 1580.24,408.87 1580.62,409.07 1581.00,409.25 1581.37,409.42 1581.75,409.57 1582.12,409.71 1582.50,409.83 1582.88,409.94 1583.25,410.04 1583.63,410.13 1584.00,410.21 1584.38,410.29 1584.76,410.36 1585.13,410.42 1585.51,410.47 1585.89,410.52 1586.26,410.57 1586.64,410.61 1587.01,410.65 1587.39,410.68 1587.77,410.71 1588.14,410.74 1588.52,410.76 1588.90,410.79 1589.27,410.81 1589.65,410.82 1590.02,410.84 1590.40,410.86 1590.78,410.87 1591.15,410.88 1591.53,410.89 1591.91,410.90 1592.28,410.91 1592.66,410.92 1593.03,410.93 1593.41,410.94 1593.79,410.94 1594.16,410.95 1594.54,410.95 1594.91,410.96 1595.29,410.96 1595.67,410.96 1596.04,410.97 1596.42,410.97 1596.80,410.97 1597.17,410.98 1597.55,410.98 1597.92,410.98 1598.30,410.98 1598.68,410.98 1599.05,410.99 1599.43,410.99 1599.81,410.99 1600.18,410.99 1600.56,410.99 1600.93,410.99 1601.31,410.99 1601.69,410.99 1602.06,410.99 1602.44,410.99 1602.81,410.99 1603.19,411.00 1603.57,411.00 1603.94,411.00 1604.32,411.00 1604.70,411.00 1605.07,411.00 1605.45,411.00 1605.82,411.00 1606.20,411.00 1606.58,411.00 1606.95,411.00 1607.33,411.00 1607.71,411.00 1608.08,411.00 1608.46,411.00 1608.83,411.00 1609.21,411.00 1609.59,411.00 1609.96,411.00 1610.34,411.00 1610.72,411.00 1611.09,411.00 1611.47,411.00 1611.84,411.00 1612.22,411.00 1631.03,411.00 1649.84,411.00 1668.65,411.00 1687.46,411.00 1706.27,411.00 1725.08,411.00 1743.89,411.00 1762.70,411.00 1781.51,411.00 1800.32,411.00 1819.13,411.00 1837.94,411.00 1856.75,411.00 1875.56,411.00 1894.37,411.00 1913.18,411.00 1931.99,411.00"/>
<polyline stroke="#bfbf00" points="1555.79,411.00 1556.17,261.11 1556.54,164.34 1556.92,105.55 1557.29,73.68 1557.67,60.63 1558.05,60.53 1558.42,69.10 1558.80,83.29 1559.18,100.87 1559.55,120.31 1559.93,140.51 1560.30,160.73 1560.68,180.45 1561.06,199.35 1561.43,217.25 1561.81,234.02 1562.19,249.63 1562.56,264.07 1562.94,277.38 1563.31,289.59 1563.69,300.77 1564.07,310.99 1564.44,320.30 1564.82,328.78 1565.19,336.49 1565.57,343.50 1565.95,349.86 1566.32,355.63 1566.70,360.87 1567.08,365.62 1567.45,369.92 1567.83,373.81 1568.20,377.34 1568.58,380.54 1568.96,383.43 1569.33,386.05 1569.71,388.42 1570.09,390.57 1570.46,392.51 1570.84,394.27 1571.21,395.86 1571.59,397.30 1571.97,398.60 1572.34,399.78 1572.72,400.85 1573.10,401.82 1573.47,402.69 1573.85,403.48 1574.22,404.20 1574.60,404.84 1574.98,405.43 1575.35,405.96 1575.73,406.44 1576.10,406.87 1576.48,407.27 1576.86,407.62 1577.23,407.94 1577.61,408.23 1577.99,408.50 1578.36,408.73 1578.74,408.95 1579.11,409.15 1579.49,409.32 1579.87,409.48 1580.24,409.63 1580.62,409.76 1581.00,409.88 1581.37,409.98 1581.75,410.08 1582.12,410.17 1582.50,410.25 1582.88,410.32 1583.25,410.38 1583.63,410.44 1584.00,410.49 1584.38,410.54 1584.76,410.59 1585.13,410.63 1585.51,410.66 1585.89,410.69 1586.26,410.72 1586.64,410.75 1587.01,410.77 1587.39,410.79 1587.77,410.81 1588.14,410.83 1588.52,410.85 1588.90,410.86 1589.27,410.88 1589.65,410.89 1590.02,410.90 1590.40,410.91 1590.78,410.92 1591.15,410.92 1591.53,410.93 1591.91,410.94 1592.28,410.94 1592.66,410.95 1593.03,410.95 1593.41,410.96 1593.79,410.96 1594.16,410.97 1594.54,410.97 1594.91,410.97 1595.29,410.97 1595.67,410.98 1596.04,410.98 1596.42,410.98 1596.80,410.98 1597.17,410.98 1597.55,410.99 1597.92,410.99 1598.30,410.99 1598.68,410.99 1599.05,410.99 1599.43,410.99 1599.81,410.99 1600.18,410.99 1600.56,410.99 1600.93,410.99 1601.31,410.99 1601.69,411.00 1602.06,411.00 1602.44,411.00 1602.81,411.00 1603.19,411.00 1603.57,411.00 1603.94,411.00 1604.32,411.00 1604.70,411.00 1605.07,411.00 1605.45,411.00 1605.82,411.00 1606.20,411.00 1606.58,411.00 1606.95,411.00 1607.33,411.00 1607.71,411.00 1608.08,411.00 1608.46,411.00 1608.83,411.00 1609.21,411.00 1609.59,411.00 1609.96,411.00 1610.34,411.00 1610.72,411.00 1611.09,411.00 1611.47,411.00 1611.84,411.00 1612.22,411.00 1631.03,411.00 1649.84,411.00 1668.65,411.00 1687.46,411.00 1706.27,411.00 1725.08,411.00 1743.89,411.00 1762.70,411.00 1781.51,411.00 1800.32,411.00 1819.13,411.00 1837.94,411.00 1856.75,411.00 1875.56,411.00 1894.37,411.00 1913.18,411.00 1931.99,411.00"/>
<polyline stroke="#0000ff" points="1555.79,411.00 1556.17,217.94 1556.54,119.21 1556.92,75.96 1557.29,64.76 1557.67,71.58 1558.05,88.04 1558.42,109.16 1558.80,132.05 1559.18,155.06 1559.55,177.27 1559.93,198.21 1560.30,217.67 1560.68,235.59 1561.06,251.99 1561.43,266.95 1561.81,280.55 1562.19,292.90 1562.56,304.10 1562.94,314.25 1563.31,323.44 1563.69,331.76 1564.07,339.30 1564.44,346.12 1564.82,352.29 1565.19,357.88 1565.57,362.93 1565.95,367.51 1566.32,371.64 1566.70,375.39 1567.08,378.78 1567.45,381.84 1567.83,384.62 1568.20,387.13 1568.58,389.40 1568.96,391.46 1569.33,393.32 1569.71,395.00 1570.09,396.52 1570.46,397.90 1570.84,399.15 1571.21,400.27 1571.59,401.29 1571.97,402.22 1572.34,403.05 1572.72,403.81 1573.10,404.49 1573.47,405.11 1573.85,405.67 1574.22,406.18 1574.60,406.64 1574.98,407.05 1575.35,407.43 1575.73,407.77 1576.10,408.08 1576.48,408.36 1576.86,408.61 1577.23,408.83 1577.61,409.04 1577.99,409.23 1578.36,409.40 1578.74,409.55 1579.11,409.69 1579.49,409.81 1579.87,409.92 1580.24,410.03 1580.62,410.12 1581.00,410.20 1581.37,410.28 1581.75,410.35 1582.12,410.41 1582.50,410.47 1582.88,410.52 1583.25,410.56 1583.63,410.60 1584.00,410.64 1584.38,410.68 1584.76,410.71 1585.13,410.73 1585.51,410.76 1585.89,410.78 1586.26,410.80 1586.64,410.82 1587.01,410.84 1587.39,410.85 1587.77,410.87 1588.14,410.88 1588.52,410.89 1588.90,410.90 1589.27,410.91 1589.65,410.92 1590.02,410.93 1590.40,410.93 1590.78,410.94 1591.15,410.95 1591.53,410.95 1591.91,410.96 1592.28,410.96 1592.66,410.96 1593.03,410.97 1593.41,410.97 1593.79,410.97 1594.16,410.98 1594.54,410.98 1594.91,410.98 1595.29,410.98 1595.67,410.98 1596.04,410.99 1596.42,410.99 1596.80,410.99 1597.17,410.99 1597.55,410.99 1597.92,410.99 1598.30,410.99 1598.68,410.99 1599.05,410.99 1599.43,410.99 1599.81,410.99 1600.18,411.00 1600.56,411.00 1600.93,411.00 1601.31,411.00 1601.69,411.00 1602.06,411.00 1602.44,411.00 1602.81,411.00 1603.19,411.00 1603.57,411.00 1603.94,411.00 1604.32,411.00 1604.70,411.00 1605.07,411.00 1605.45,411.00 1605.82,411.00 1606.20,411.00 1606.58,411.00 1606.95,411.00 1607.33,411.00 1607.71,411.00 1608.08,411.00 1608.46,411.00 1608.83,411.00 1609.21,411.00 1609.59,411.00 1609.96,411.00 1610.34,411.00 1610.72,411.00 1611.09,411.00 1611.47,411.00 1611.84,411.00 1612.22,411.00 1631.03,411.00 1649.84,411.00 1668.65,411.00 1687.46,411.00 1706.27,411.00 1725.08,411.00 1743.89,411.00 1762.70,411.00 1781.51,411.00 1800.32,411.00 1819.13,411.00 1837.94,411.00 1856.75,411.00 1875.56,411.00 1894.37,411.00 1913.18,411.00 1931.99,411.00"/>
<polyline stroke="#008000" points="1555.79,411.00 1556.17,151.25 1556.54,80.41 1556.92,76.71 1557.29,95.59 1557.67,120.85 1558.05,146.71 1558.42,171.22 1558.80,193.80 1559.18,214.38 1559.55,233.06 1559.93,249.98 1560.30,265.30 1560.68,279.16 1561.06,291.71 1561.43,303.06 1561.81,313.33 1562.19,322.63 1562.56,331.04 1562.94,338.65 1563.31,345.53 1563.69,351.76 1564.07,357.40 1564.44,362.50 1564.82,367.12 1565.19,371.29 1565.57,375.07 1565.95,378.49 1566.32,381.58 1566.70,384.38 1567.08,386.92 1567.45,389.21 1567.83,391.28 1568.20,393.16 1568.58,394.86 1568.96,396.39 1569.33,397.78 1569.71,399.04 1570.09,400.18 1570.46,401.21 1570.84,402.14 1571.21,402.98 1571.59,403.75 1571.97,404.44 1572.34,405.06 1572.72,405.63 1573.10,406.14 1573.47,406.60 1573.85,407.02 1574.22,407.40 1574.60,407.74 1574.98,408.05 1575.35,408.33 1575.73,408.59 1576.10,408.82 1576.48,409.02 1576.86,409.21 1577.23,409.38 1577.61,409.54 1577.99,409.67 1578.36,409.80 1578.74,409.92 1579.11,410.02 1579.49,410.11 1579.87,410.20 1580.24,410.27 1580.62,410.34 1581.00,410.40 1581.37,410.46 1581.75,410.51 1582.12,410.56 1582.50,410.60 1582.88,410.64 1583.25,410.67 1583.63,410.70 1584.00,410.73 1584.38,410.76 1584.76,410.78 1585.13,410.80 1585.51,410.82 1585.89,410.84 1586.26,410.85 1586.64,410.87 1587.01,410.88 1587.39,410.89 1587.77,410.90 1588.14,410.91 1588.52,410.92 1588.90,410.93 1589.27,410.93 1589.65,410.94 1590.02,410.95 1590.40,410.95 1590.78,410.96 1591.15,410.96 1591.53,410.96 1591.91,410.97 1592.28,410.97 1592.66,410.97 1593.03,410.98 1593.41,410.98 1593.79,410.98 1594.16,410.98 1594.54,410.98 1594.91,410.99 1595.29,410.99 1595.67,410.99 1596.04,410.99 1596.42,410.99 1596.80,410.99 1597.17,410.99 1597.55,410.99 1597.92,410.99 1598.30,410.99 1598.68,410.99 1599.05,411.00 1599.43,411.00 1599.81,411.00 1600.18,411.00 1600.56,411.00 1600.93,411.00 1601.31,411.00 1601.69,411.00 1602.06,411.00 1602.44,411.00 1602.81,411.00 1603.19,411.00 1603.57,411.00 1603.94,411.00 1604.32,411.00 1604.70,411.00 1605.07,411.00 1605.45,411.00 1605.82,411.00 1606.20,411.00 1606.58,411.00 1606.95,411.00 1607.33,411.00 1607.71,411.00 1608.08,411.00 1608.46,411.00 1608.83,411.00 1609.21,411.00 1609.59,411.00 1609.96,411.00 1610.34,411.00 1610.72,411.00 1611.09,411.00 1611.47,411.00 1611.84,411.00 1612.22,411.00 1631.03,411.00 1649.84,411.00 1668.65,411.00 1687.46,411.00 1706.27,411.00 1725.08,411.00 1743.89,411.00 1762.70,411.00 1781.51,411.00 1800.32,411.00 1819.13,411.00 1837.94,411.00 1856.75,411.00 1875.56,411.00 1894.37,411.00 1913.18,411.00 1931.99,411.00"/>
</g>
<g stroke="#1c1c1c" stroke-width="1.2">
<line x1="1555.79" y1="428.5" x2="1555.79" y2="433.70"/>
<line x1="1631.03" y1="428.5" x2="1631.03" y2="433.70"/>
<line x1="1706.27" y1="428.5" x2="1706.27" y2="433.70"/>
<line x1="1781.51" y1="428.5" x2="1781.51" y2="433.70"/>
<line x1="1856.75" y1="428.5" x2="1856.75" y2="433.70"/>
<line x1="1931.99" y1="428.5" x2="1931.99" y2="433.70"/>
<line x1="1531.79" y1="411.10" x2="1536.99" y2="411.10"/>
<line x1="1531.79" y1="356.35" x2="1536.99" y2="356.35"/>
<line x1="1531.79" y1="301.59" x2="1536.99" y2="301.59"/>
<line x1="1531.79" y1="246.84" x2="1536.99" y2="246.84"/>
<line x1="1531.79" y1="192.08" x2="1536.99" y2="192.08"/>
<line x1="1531.79" y1="137.33" x2="1536.99" y2="137.33"/>
<line x1="1531.79" y1="82.58" x2="1536.99" y2="82.58"/>
</g>
<g font-family='"Liberation Sans", sans-serif' font-size="15.0" fill="#000" stroke="#000" stroke-width="0.2" text-rendering="geometricPrecision">
<text transform="translate(1555.79,449.40) scale(1.015,1)" text-anchor="middle">0</text>
<text transform="translate(1631.03,449.40) scale(1.015,1)" text-anchor="middle">200</text>
<text transform="translate(1706.27,449.40) scale(1.015,1)" text-anchor="middle">400</text>
<text transform="translate(1781.51,449.40) scale(1.015,1)" text-anchor="middle">600</text>
<text transform="translate(1856.75,449.40) scale(1.015,1)" text-anchor="middle">800</text>
<text transform="translate(1931.99,449.40) scale(1.015,1)" text-anchor="middle">1000</text>
<text transform="translate(1526.59,416.40) scale(1.015,1)" text-anchor="end">0.0</text>
<text transform="translate(1526.59,361.65) scale(1.015,1)" text-anchor="end">0.2</text>
<text transform="translate(1526.59,306.89) scale(1.015,1)" text-anchor="end">0.4</text>
<text transform="translate(1526.59,252.14) scale(1.015,1)" text-anchor="end">0.6</text>
<text transform="translate(1526.59,197.38) scale(1.015,1)" text-anchor="end">0.8</text>
<text transform="translate(1526.59,142.63) scale(1.015,1)" text-anchor="end">1.0</text>
<text transform="translate(1526.59,87.88) scale(1.015,1)" text-anchor="end">1.2</text>
</g>
<rect x="1536.99" y="38.0" width="413.85" height="390.50" fill="none" stroke="#1c1c1c" stroke-width="1.2"/>
<text x="1587.09" y="22.50" font-family='"Liberation Serif", serif' font-size="33.75" font-weight="bold" fill="#000">High Organised Level</text>
<text x="1689.52" y="482.80" font-family='"Liberation Serif", serif' font-size="33.96" fill="#000">Timestep</text>
<text x="1734.08" y="520.00" font-family='"Liberation Serif", serif' font-size="33.75" font-weight="bold" fill="#000" letter-spacing="0.797">(d)</text>
<g transform="translate(1749.20,41.10) scale(1.033)">
<rect x="0" y="0" width="192.5" height="146.2" rx="4" ry="4" fill="#fff" fill-opacity="0.8" stroke="#d3d3d3" stroke-width="2.3"/>
<line x1="7.2" y1="18.75" x2="54.3" y2="18.75" stroke="#ff0000" stroke-width="3.7"/>
<line x1="7.2" y1="53.62" x2="54.3" y2="53.62" stroke="#bfbf00" stroke-width="3.7"/>
<line x1="7.2" y1="88.49" x2="54.3" y2="88.49" stroke="#0000ff" stroke-width="3.7"/>
<line x1="7.2" y1="123.36" x2="54.3" y2="123.36" stroke="#008000" stroke-width="3.7"/>
<text y="25.10" font-family='"Liberation Sans", sans-serif' font-size="22.86" fill="#000" stroke="#000" stroke-width="0.3"><tspan x="69.70" font-family='"DejaVu Sans", "Liberation Sans", sans-serif' font-style="italic" font-size="22.0" stroke="none">β</tspan><tspan x="98.75" text-anchor="middle"> = </tspan><tspan x="122.30" text-anchor="middle">2</tspan><tspan x="141.70" text-anchor="middle"> * </tspan><tspan x="154.61" font-family='"DejaVu Sans", "Liberation Sans", sans-serif' font-style="italic" font-size="22.0" stroke="none">α</tspan></text>
<text y="59.97" font-family='"Liberation Sans", sans-serif' font-size="22.86" fill="#000" stroke="#000" stroke-width="0.3"><tspan x="69.70" font-family='"DejaVu Sans", "Liberation Sans", sans-serif' font-style="italic" font-size="22.0" stroke="none">β</tspan><tspan x="98.75" text-anchor="middle"> = </tspan><tspan x="122.30" text-anchor="middle">3</tspan><tspan x="141.70" text-anchor="middle"> * </tspan><tspan x="154.61" font-family='"DejaVu Sans", "Liberation Sans", sans-serif' font-style="italic" font-size="22.0" stroke="none">α</tspan></text>
<text y="94.84" font-family='"Liberation Sans", sans-serif' font-size="22.86" fill="#000" stroke="#000" stroke-width="0.3"><tspan x="69.70" font-family='"DejaVu Sans", "Liberation Sans", sans-serif' font-style="italic" font-size="22.0" stroke="none">β</tspan><tspan x="98.75" text-anchor="middle"> = </tspan><tspan x="122.30" text-anchor="middle">5</tspan><tspan x="141.70" text-anchor="middle"> * </tspan><tspan x="154.61" font-family='"DejaVu Sans", "Liberation Sans", sans-serif' font-style="italic" font-size="22.0" stroke="none">α</tspan></text>
<text y="129.71" font-family='"Liberation Sans", sans-serif' font-size="22.86" fill="#000" stroke="#000" stroke-width="0.3"><tspan x="69.70" font-family='"DejaVu Sans", "Liberation Sans", sans-serif' font-style="italic" font-size="22.0" stroke="none">β</tspan><tspan x="98.75" text-anchor="middle"> = </tspan><tspan x="130.00" text-anchor="middle">10</tspan><tspan x="155.60" text-anchor="middle"> * </tspan><tspan x="168.51" font-family='"DejaVu Sans", "Liberation Sans", sans-serif' font-style="italic" font-size="22.0" stroke="none">α</tspan></text>
</g>
</g>
<rect x="1950" y="38.5" width="1" height="390.5" fill="#000"/>
<text transform="translate(23.1,270.56) rotate(-90)" font-family='"Liberation Serif", serif' font-size="35.31" fill="#000">NCE</text>
</svg>
</body></html>
